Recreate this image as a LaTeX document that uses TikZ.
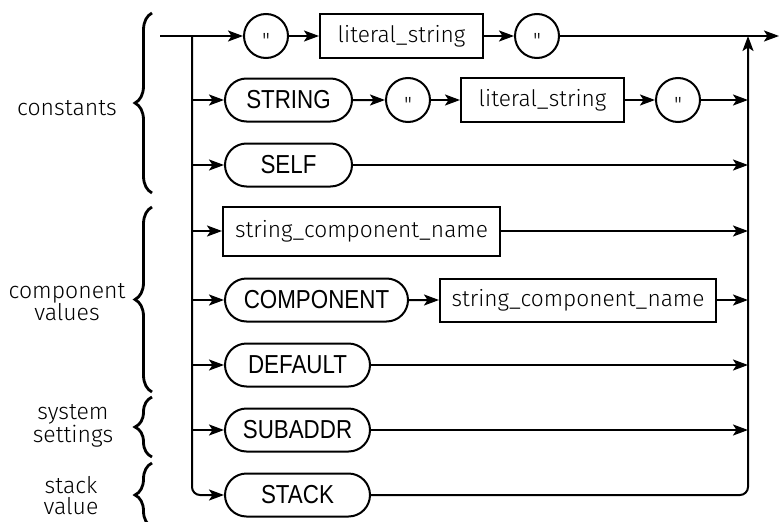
\documentclass[tikz,border=0pt]{standalone}
\usepackage{fontspec}
\setmainfont{Liberation Sans}
\newfontfamily\kwfont[FakeStretch=0.86]{Liberation Sans}
\newfontfamily\thinfont{Fira Sans Light}
\usetikzlibrary{arrows.meta,decorations.pathreplacing,shapes.misc}
\newcommand{\qmark}{\smash{\raisebox{-12.6pt}{\thinfont\fontsize{22}{22}\selectfont"}}}
\begin{document}
\begin{tikzpicture}[x=1pt,y=1pt,
  ln/.style={line width=2pt},
  arr/.style={line width=2pt,-{Stealth[length=15pt,width=11pt,inset=3.5pt]}},
  kw/.style={draw,line width=2pt,rounded rectangle,minimum height=43pt,inner sep=0pt,font=\kwfont\fontsize{26}{26}\selectfont},
  lit/.style={draw,line width=2pt,rectangle,minimum height=44pt,inner sep=0pt,font=\thinfont\fontsize{22.7}{22.7}\selectfont},
  quo/.style={draw,line width=2pt,circle,minimum size=44pt,inner sep=0pt},
  lbl/.style={align=center,font=\thinfont\fontsize{23}{21}\selectfont},
  brc/.style={line width=2.8pt,decorate,decoration={brace,amplitude=17pt}}
]
\useasboundingbox (0,0) rectangle (779,-522);
\clip (0,0) rectangle (779,-522);

% coordinates of the buses
\coordinate (IN) at (160,-36);
\coordinate (OUT) at (779,-36);
\foreach \n/\y in {1/36,2/100,3/165,4/231,5/300,6/365,7/430,8/495}{
  \coordinate (L\n) at (192,-\y);
  \coordinate (R\n) at (748,-\y);
}

% row 1
\node[quo] (q1) at (266,-36) {\qmark};
\node[lit,minimum width=163pt] (ls1) at (401.5,-36) {literal\_string};
\node[quo] (q2) at (537,-36) {\qmark};
% row 2
\node[kw,minimum width=127pt] (string) at (288.5,-100) {STRING};
\node[quo] (q3) at (408,-100) {\qmark};
\node[lit,minimum width=163pt] (ls2) at (542.5,-100) {literal\_string};
\node[quo] (q4) at (678,-100) {\qmark};
% row 3
\node[kw,minimum width=127pt] (self) at (288.5,-165) {SELF};
% row 4
\node[lit,minimum width=277pt,minimum height=49pt] (scn1) at (361.5,-231) {string\_component\_name};
% row 5
\node[kw,minimum width=183pt] (comp) at (316.5,-300) {COMPONENT};
\node[lit,minimum width=276pt,minimum height=43pt] (scn2) at (578,-300) {string\_component\_name};
% rows 6-8
\node[kw,minimum width=145pt] (default) at (297.5,-365) {DEFAULT};
\node[kw,minimum width=145pt] (subaddr) at (297.5,-430) {SUBADDR};
\node[kw,minimum width=145pt] (stack) at (297.5,-495) {STACK};

% connectors
\draw[arr] (IN) -- (q1);
\draw[arr] (q1) -- (ls1);
\draw[arr] (ls1) -- (q2);
\draw[arr] (q2) -- (OUT);
\draw[arr,rounded corners=8pt] (L1) |- (stack.west);
\draw[arr,rounded corners=8pt] (stack.east) -| (R1);

\draw[arr] (L2) -- (string.west);
\draw[arr] (string) -- (q3);
\draw[arr] (q3) -- (ls2);
\draw[arr] (ls2) -- (q4);
\draw[arr] (q4) -- (R2);

\draw[arr] (L3) -- (self.west);
\draw[arr] (self.east) -- (R3);

\draw[arr] (L4) -- (scn1.west);
\draw[arr] (scn1.east) -- (R4);

\draw[arr] (L5) -- (comp.west);
\draw[arr] (comp) -- (scn2);
\draw[arr] (scn2.east) -- (R5);

\draw[arr] (L6) -- (default.west);
\draw[arr] (default.east) -- (R6);

\draw[arr] (L7) -- (subaddr.west);
\draw[arr] (subaddr.east) -- (R7);

% braces and labels
\draw[brc] (152,-193) -- (152,-13);
\draw[brc] (152,-392) -- (152,-207);
\draw[brc] (152,-457) -- (152,-397);
\draw[brc] (152,-527) -- (152,-463);
\node[lbl] (tconst) at (67,-108) {constants};
\node[lbl] (tcomp) at (67,-302) {component\\values};
\node[lbl] (tsys) at (73,-426) {system\\settings};
\node[lbl] (tstack) at (71,-496) {stack\\value};
\end{tikzpicture}
\end{document}
